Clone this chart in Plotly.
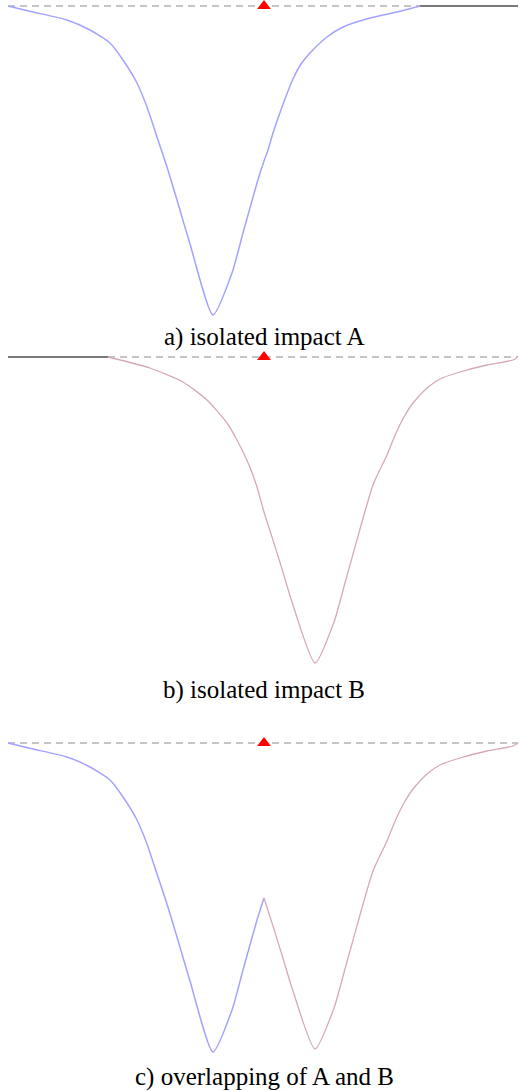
import plotly.graph_objects as go

# impact A profile: position / depth
a_x = [8, 33, 67, 90, 110, 123, 137, 147, 157, 167, 177, 190, 213,
       232, 243, 257, 264, 268, 273, 282, 293, 301, 310, 327, 343, 370, 397, 420]
a_depth = [0, 6, 14, 24, 37, 54, 77, 101, 131, 161, 194, 238, 309,
           267, 227, 177, 155, 144, 127, 101, 73, 58, 47, 31, 21, 12, 6, 0]

# impact B profile
b_x = [108, 150, 183, 207, 227, 237, 249, 257, 264, 272, 282, 292, 315,
       334, 345, 360, 373, 387, 396, 404, 413, 427, 440, 460, 487, 513, 518]
b_depth = [0, 11, 25, 43, 66, 83, 108, 130, 155, 180, 212, 245, 306,
           265, 226, 172, 128, 98, 76, 60, 46, 31, 22, 15, 8, 3, 0]

# reference level and probe position
x_min, x_max = 8, 518
probe_x = 264
captions = ["a) isolated impact A", "b) isolated impact B", "c) overlapping of A and B"]

W, H = 519, 1091
BLUE = "#a3a3ff"
PINK = "#d6a8bc"
DASH_C = "#b3b3b3"
SOLID_C = "#7a7a7a"

# panel layout in pixels: (top, bottom, baseline, caption y)
panels = [(0, 330, 6, 337), (345, 680, 357, 690), (730, 1065, 743, 1077)]

fig = go.Figure()


def neg(v):
    return [-d for d in v]


def add(x, y, k, **kw):
    ax = "" if k == 0 else str(k + 1)
    fig.add_trace(go.Scatter(x=x, y=y, xaxis="x" + ax, yaxis="y" + ax,
                             hoverinfo="skip", showlegend=False, **kw))


dash = dict(color=DASH_C, width=1.5, dash="7px,5px")
solid = dict(color=SOLID_C, width=2.2)
blue = dict(color=BLUE, width=1.5, shape="spline", smoothing=0.6)
pink = dict(color=PINK, width=1.3, shape="spline", smoothing=0.6)

# a) impact A alone
add([a_x[0], a_x[-1]], [0, 0], 0, mode="lines", line=dash)
add([a_x[-1], x_max], [0, 0], 0, mode="lines", line=solid)
add(a_x, neg(a_depth), 0, mode="lines", line=blue)

# b) impact B alone
add([b_x[0], b_x[-1]], [0, 0], 1, mode="lines", line=dash)
add([x_min, b_x[0]], [0, 0], 1, mode="lines", line=solid)
add(b_x, neg(b_depth), 1, mode="lines", line=pink)

# c) overlap: deeper of the two on each side of the probe
add([x_min, x_max], [0, 0], 2, mode="lines", line=dash)
ca = [(x, d) for x, d in zip(a_x, a_depth) if x <= probe_x]
cb = [(x, d) for x, d in zip(b_x, b_depth) if x >= probe_x]
add([p[0] for p in ca], neg([p[1] for p in ca]), 2, mode="lines", line=blue)
add([p[0] for p in cb], neg([p[1] for p in cb]), 2, mode="lines", line=pink)

# probe markers
for k in range(3):
    add([probe_x], [0], k, mode="markers", cliponaxis=False,
        marker=dict(symbol="triangle-up", size=12, color="red"))

layout = dict(width=W, height=H, margin=dict(l=0, r=0, t=0, b=0),
              plot_bgcolor="white", paper_bgcolor="white",
              font=dict(family="Liberation Serif", color="black"))
annotations = []
for k, (top, bot, base, cap_y) in enumerate(panels):
    ax = "" if k == 0 else str(k + 1)
    layout["xaxis" + ax] = dict(range=[0, W], visible=False, fixedrange=True,
                                anchor="y" + ax)
    layout["yaxis" + ax] = dict(range=[-(bot - base), base - top],
                                domain=[1 - bot / H, 1 - top / H],
                                visible=False, fixedrange=True,
                                anchor="x" + ax)
    annotations.append(dict(text=captions[k], x=probe_x / W, y=1 - cap_y / H,
                            xref="paper", yref="paper", showarrow=False,
                            xanchor="center", yanchor="middle",
                            font=dict(size=25, family="Liberation Serif")))
layout["annotations"] = annotations
fig.update_layout(**layout)

# drop the default page margin so the figure sits at the window corner
fig.write_html("out.html", config={"displayModeBar": False},
               post_script="document.body.style.margin='0';")
